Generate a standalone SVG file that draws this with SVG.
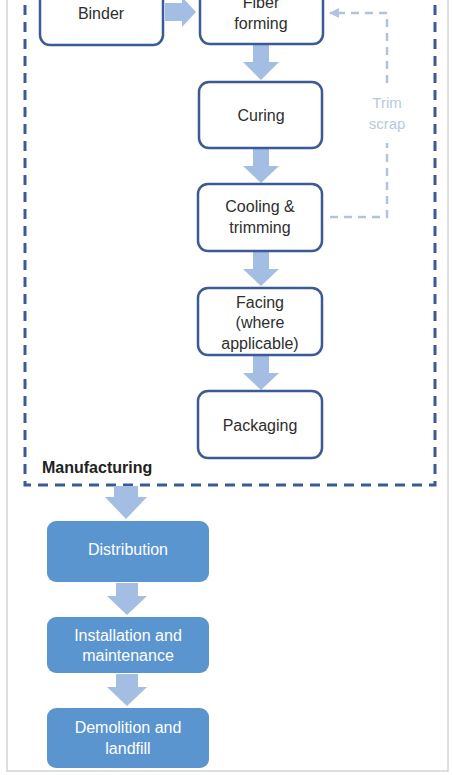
<svg xmlns="http://www.w3.org/2000/svg" width="452" height="775" viewBox="0 0 452 775">
<defs>
<style>
.frame{fill:#fff;stroke:#d4d4d4;stroke-width:1.5}
.box{fill:#fff;stroke:#3b5a96;stroke-width:2.5}
.bbox{fill:#5b95cf;stroke:none}
.t{font-family:"Liberation Sans",Arial,sans-serif;font-size:16px;fill:#2e2e2e;text-anchor:middle}
.tw{font-family:"Liberation Sans",Arial,sans-serif;font-size:16px;fill:#fff;text-anchor:middle}
.arr{fill:#a4bde2}
.cont{fill:none;stroke:#3b5a96;stroke-width:3;stroke-dasharray:10 7}
.trim{fill:none;stroke:#b3c3de;stroke-width:2.5;stroke-dasharray:8 6}
.tt{font-family:"Liberation Sans",Arial,sans-serif;font-size:15px;fill:#b8c8e4;text-anchor:middle}
</style>
<marker id="ah" viewBox="0 0 10 10" refX="9" refY="5" markerWidth="4" markerHeight="4" orient="auto">
<path d="M0,0 L10,5 L0,10 z" fill="#b3c3de"/>
</marker>
</defs>
<rect class="frame" x="7" y="-5" width="441" height="776"/>
<g id="manufacturing">
<rect class="cont" x="25" y="-10" width="410" height="495"/>
<text x="42" y="473" font-family="Liberation Sans,Arial,sans-serif" font-size="16" font-weight="bold" fill="#222">Manufacturing</text>
</g>
<g id="connectors">
<path class="arr" d="M165,3 H182 V-3 L196,12 L182,27 V21 H165 Z"/>
<path class="arr" d="M253,45 H269 V62 H279 L261,80 L243,62 H253 Z"/>
<path class="arr" d="M253,149 H269 V166 H279 L261,183 L243,166 H253 Z"/>
<path class="arr" d="M253,252 H269 V269 H279 L261,286 L243,269 H253 Z"/>
<path class="arr" d="M253,356 H269 V373 H279 L261,390 L243,373 H253 Z"/>
<path class="arr" d="M114,486 H138 V497 H147 L126,519 L105,497 H114 Z"/>
<path class="arr" d="M116,583 H138 V596 H147 L127,615 L107,596 H116 Z"/>
<path class="arr" d="M116,674 H138 V687 H147 L127,706 L107,687 H116 Z"/>
<path class="trim" d="M330,217 H387 V143"/>
<path class="trim" d="M387,83 V13 H330" marker-end="url(#ah)"/>
<text class="tt" x="387" y="108">Trim</text>
<text class="tt" x="387" y="129">scrap</text>
</g>
<g id="binder">
<rect class="box" x="40" y="-20" width="123" height="65" rx="10"/>
<text class="t" x="101" y="19">Binder</text>
</g>
<g id="fiber">
<rect class="box" x="200" y="-20" width="123" height="64" rx="10"/>
<text class="t" x="261" y="8">Fiber</text>
<text class="t" x="261" y="29">forming</text>
</g>
<g id="curing">
<rect class="box" x="199" y="82" width="123" height="66" rx="10"/>
<text class="t" x="261" y="121">Curing</text>
</g>
<g id="cooling">
<rect class="box" x="198" y="184" width="124" height="67" rx="10"/>
<text class="t" x="260" y="212">Cooling &amp;</text>
<text class="t" x="260" y="233">trimming</text>
</g>
<g id="facing">
<rect class="box" x="198" y="288" width="124" height="67" rx="10"/>
<text class="t" x="260" y="308">Facing</text>
<text class="t" x="260" y="328">(where</text>
<text class="t" x="260" y="349">applicable)</text>
</g>
<g id="packaging">
<rect class="box" x="198" y="391" width="124" height="67" rx="10"/>
<text class="t" x="260" y="431">Packaging</text>
</g>
<g id="distribution">
<rect class="bbox" x="47" y="521" width="162" height="61" rx="9"/>
<text class="tw" x="128" y="555">Distribution</text>
</g>
<g id="installation">
<rect class="bbox" x="47" y="617" width="162" height="56" rx="9"/>
<text class="tw" x="128" y="641">Installation and</text>
<text class="tw" x="128" y="661">maintenance</text>
</g>
<g id="demolition">
<rect class="bbox" x="47" y="708" width="162" height="60" rx="9"/>
<text class="tw" x="128" y="733">Demolition and</text>
<text class="tw" x="128" y="754">landfill</text>
</g>
</svg>
